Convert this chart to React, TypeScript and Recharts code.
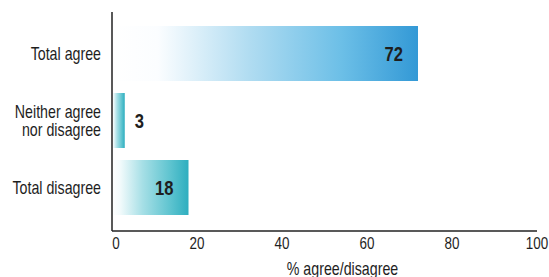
import { BarChart, Bar, XAxis, YAxis, Cell, LabelList } from 'recharts';

const categories = ['Total agree', 'Neither agree\nnor disagree', 'Total disagree'];
const values = [72, 3, 18];
const xTicks = [0, 20, 40, 60, 80, 100];
const xLabel = '% agree/disagree';

const data = categories.map((name, i) => ({ name, value: values[i] }));

// gradient stops per bar: [offset, colour]
const blueStops: [string, string][] = [['0%', '#ffffff'], ['15%', '#fbfdff'], ['45%', '#b0dcf1'], ['75%', '#6cbfe7'], ['100%', '#3399d6']];
const tealStops: [string, string][] = [['0%', '#ffffff'], ['10%', '#f4fbfc'], ['40%', '#a6dfe6'], ['77%', '#5cc3cf'], ['100%', '#2eaebf']];
const barStops = [blueStops, tealStops, tealStops];

const FONT = '"Liberation Sans", Arial, sans-serif';
const SQUEEZE = 0.79;

// narrow text: squeeze horizontally around the anchor point
const NarrowText = ({ x, y, anchor, size, bold, children }: any) => (
    <g transform={`translate(${x},${y}) scale(${SQUEEZE},1)`}>
        <text
            x={0}
            y={0}
            textAnchor={anchor}
            dominantBaseline="central"
            fontFamily={FONT}
            fontSize={size}
            fontWeight={bold ? 'bold' : 'normal'}
            fill="#1e1e1e"
        >
            {children}
        </text>
    </g>
);

const CategoryTick = (props: any) => {
    const { x, y, payload } = props;
    const lines = String(payload.value).split('\n');
    const lh = 18;
    const y0 = y - ((lines.length - 1) * lh) / 2;
    return (
        <g>
            {lines.map((l, i) => (
                <NarrowText key={i} x={x - 3} y={y0 + i * lh} anchor="end" size={18}>{l}</NarrowText>
            ))}
        </g>
    );
};

const NumberTick = (props: any) => {
    const { x, y, payload } = props;
    return <NarrowText x={x + (payload.value === 0 ? 4 : 0)} y={y + 4} anchor="middle" size={17}>{payload.value}</NarrowText>;
};

const AxisTitle = (props: any) => {
    const { viewBox } = props;
    const cx = viewBox.x + viewBox.width / 2 + 18;
    return <NarrowText x={cx} y={viewBox.y + 37} anchor="middle" size={18}>{xLabel}</NarrowText>;
};

const ValueLabel = (props: any) => {
    const { x, y, width, height, value } = props;
    const inside = width > 30;
    const tx = inside ? x + width - 15 : x + width + 10;
    return (
        <NarrowText x={tx} y={y + height / 2} anchor={inside ? 'end' : 'start'} size={21} bold>
            {value}
        </NarrowText>
    );
};

export default function App() {
    return (
        <div style={{ position: 'absolute', left: 0, top: 0, width: 549, height: 277, background: '#fff' }}>
            <BarChart
                width={549}
                height={277}
                data={data}
                layout="vertical"
                margin={{ top: 12, right: 12, bottom: 0, left: 0 }}
                barCategoryGap={6}
            >
                <defs>
                    {barStops.map((stops, i) => (
                        <linearGradient key={i} id={`grad-${i}`} x1="0" y1="0" x2="1" y2="0">
                            {stops.map(([o, c]) => (
                                <stop key={o} offset={o} stopColor={c} />
                            ))}
                        </linearGradient>
                    ))}
                </defs>
                <XAxis
                    type="number"
                    domain={[0, 100]}
                    ticks={xTicks}
                    tickLine={false}
                    axisLine={{ stroke: '#222', strokeWidth: 1.5 }}
                    tick={<NumberTick />}
                    height={46}
                    label={<AxisTitle />}
                />
                <YAxis
                    type="category"
                    dataKey="name"
                    width={112}
                    tickLine={false}
                    axisLine={{ stroke: '#222', strokeWidth: 1.5 }}
                    tick={<CategoryTick />}
                    padding={{ top: 8, bottom: 10 }}
                />
                <Bar dataKey="value" isAnimationActive={false}>
                    {data.map((_, i) => (
                        <Cell key={i} fill={`url(#grad-${i})`} />
                    ))}
                    <LabelList dataKey="value" content={<ValueLabel />} />
                </Bar>
            </BarChart>
        </div>
    );
}
